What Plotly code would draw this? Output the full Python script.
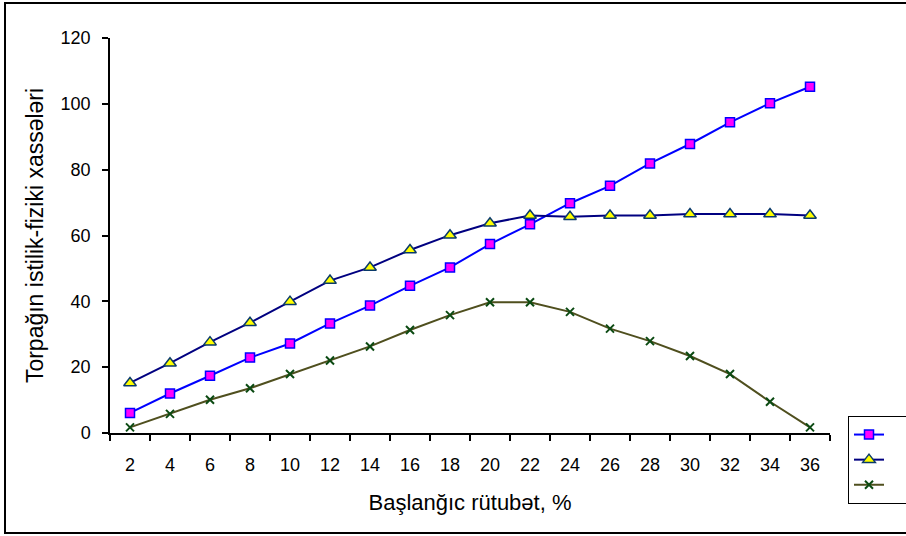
import plotly.graph_objects as go

# Initial moisture, %
moisture = [2, 4, 6, 8, 10, 12, 14, 16, 18, 20, 22, 24, 26, 28, 30, 32, 34, 36]
x_labels = [str(v) for v in moisture]

# Thermophysical properties of the soil (three measured series)
series_square = [6.1, 12.0, 17.4, 22.9, 27.2, 33.3, 38.7, 44.7, 50.3, 57.4,
                 63.4, 69.8, 75.1, 81.9, 87.8, 94.4, 100.2, 105.2]
series_triangle = [15.2, 21.2, 27.6, 33.5, 39.9, 46.3, 50.3, 55.6, 60.1, 63.7,
                   66.1, 65.7, 66.1, 66.1, 66.5, 66.5, 66.5, 66.1]
series_cross = [1.7, 5.8, 10.1, 13.6, 17.9, 22.0, 26.3, 31.3, 35.8, 39.7,
                39.7, 36.8, 31.7, 27.9, 23.4, 17.9, 9.5, 1.7]

y_ticks = [0, 20, 40, 60, 80, 100, 120]

FONT = "Liberation Sans, Arial, sans-serif"
BLANK = "\u00a0" * 4

fig = go.Figure()

fig.add_trace(go.Scatter(
    x=x_labels, y=series_square, mode="lines+markers", name=BLANK,
    line=dict(color="#0000FF", width=2),
    marker=dict(symbol="square", size=9, color="#FF00FF",
                line=dict(color="#0000FF", width=1.5)),
))
fig.add_trace(go.Scatter(
    x=x_labels, y=series_triangle, mode="lines+markers", name=BLANK,
    line=dict(color="#000080", width=2),
    marker=dict(symbol="triangle-up", size=11, color="#FFFF00",
                line=dict(color="#0A3A6A", width=1.5)),
))
fig.add_trace(go.Scatter(
    x=x_labels, y=series_cross, mode="lines+markers", name=BLANK,
    line=dict(color="#4F4F1E", width=2),
    marker=dict(symbol="x-thin", size=8, color="#0B4A12",
                line=dict(color="#0B4A12", width=2)),
))

# plot area: x 110..830, y 38..433 (pixels)
L, R, T, B = 110, 76, 38, 103
W, H = 906, 536
pw, ph = W - L - R, H - T - B

def px_x(px):
    return (px - L) / pw

def px_y(py):
    return (H - B - py) / ph

# outer chart frame
fig.add_shape(type="rect", xref="paper", yref="paper",
              x0=px_x(5), x1=px_x(912), y0=px_y(533), y1=px_y(3),
              line=dict(color="black", width=2), fillcolor="rgba(0,0,0,0)",
              layer="below")

fig.update_layout(
    width=W, height=H,
    margin=dict(l=L, r=R, t=T, b=B, autoexpand=False),
    paper_bgcolor="white", plot_bgcolor="white",
    font=dict(family=FONT, size=18, color="black"),
    showlegend=True,
    legend=dict(
        x=px_x(848), y=px_y(416), xanchor="left", yanchor="top",
        bgcolor="white", bordercolor="black", borderwidth=1,
        font=dict(family=FONT, size=17),
        tracegroupgap=0, itemwidth=30,
    ),
    xaxis=dict(
        type="category", range=[-0.5, len(x_labels) - 0.5],
        showline=True, linecolor="black", linewidth=1.5,
        ticks="outside", tickson="boundaries", ticklen=6, tickwidth=1.5,
        tickcolor="black", showgrid=False, zeroline=False,
        tickfont=dict(family=FONT, size=18), ticklabelstandoff=15,
        title=dict(text="Başlanğıc rütubət, %", standoff=20,
                   font=dict(family=FONT, size=22)),
    ),
    yaxis=dict(
        range=[0, 120], tickvals=y_ticks,
        showline=True, linecolor="black", linewidth=1.5,
        ticks="outside", ticklen=6, tickwidth=1.5, tickcolor="black",
        showgrid=False, zeroline=False,
        tickfont=dict(family=FONT, size=18), ticklabelstandoff=8,
        title=dict(text="Torpağın istilik-fiziki xassələri", standoff=11,
                   font=dict(family=FONT, size=23)),
    ),
)

fig.write_html("out.html")
